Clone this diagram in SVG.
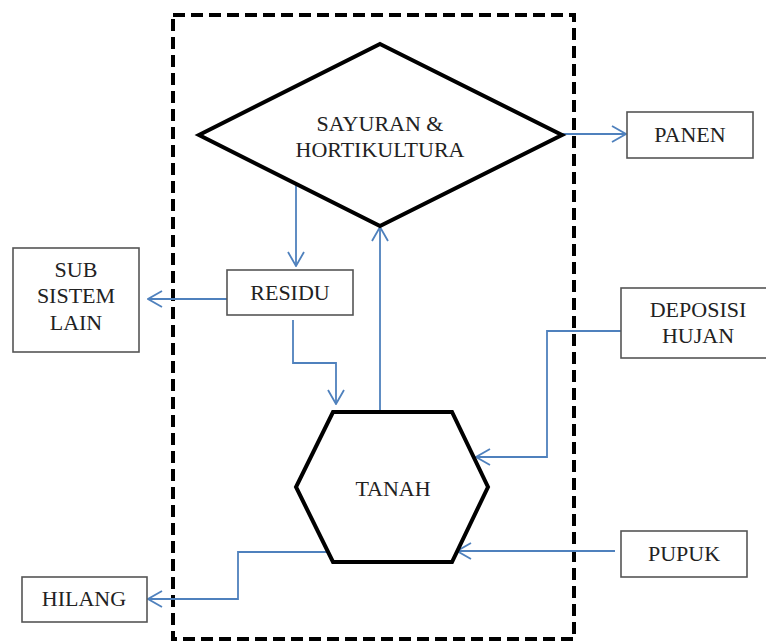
<svg xmlns="http://www.w3.org/2000/svg" width="766" height="642" viewBox="0 0 766 642">
<defs>
<style>
.box{fill:#fff;stroke:#555;stroke-width:1.6}
.shape{fill:#fff;stroke:#000;stroke-width:4;stroke-linejoin:miter}
.lbl{font-family:"Liberation Serif","Times New Roman",serif;font-size:22px;fill:#222;text-anchor:middle}
.conn{fill:none;stroke:#4F81BD;stroke-width:1.8}
</style>
<marker id="arr" viewBox="0 0 16 18" refX="15" refY="9" markerWidth="16" markerHeight="18" markerUnits="userSpaceOnUse" orient="auto">
<path d="M1,1 L15,9 L1,17" fill="none" stroke="#4F81BD" stroke-width="1.8"/>
</marker>
</defs>
<rect width="766" height="642" fill="#fff"/>
<rect id="boundary" x="173" y="15" width="401" height="624" fill="none" stroke="#000" stroke-width="4" stroke-dasharray="12 6"/>
<g id="connectors">
<path class="conn" d="M562,134 L626,134" marker-end="url(#arr)"/>
<path class="conn" d="M296,184 L296,266" marker-end="url(#arr)"/>
<path class="conn" d="M227,299 L148,299" marker-end="url(#arr)"/>
<path class="conn" d="M293,320 L293,363 L336,363 L336,404" marker-end="url(#arr)"/>
<path class="conn" d="M380,412 L380,227" marker-end="url(#arr)"/>
<path class="conn" d="M621,331 L547,331 L547,457 L476,457" marker-end="url(#arr)"/>
<path class="conn" d="M615,551 L457,551" marker-end="url(#arr)"/>
<path class="conn" d="M328,552 L238,552 L238,599 L148,599" marker-end="url(#arr)"/>
</g>
<g id="sayuran">
<polygon class="shape" points="380,44 562,135 380,226 199,135"/>
<text class="lbl" x="380" y="131">SAYURAN &amp;</text>
<text class="lbl" x="380" y="157">HORTIKULTURA</text>
</g>
<g id="panen">
<rect class="box" x="627" y="112" width="126" height="46"/>
<text class="lbl" x="690" y="142">PANEN</text>
</g>
<g id="subsistem">
<rect class="box" x="13" y="248" width="126" height="104"/>
<text class="lbl" x="76" y="277">SUB</text>
<text class="lbl" x="76" y="303">SISTEM</text>
<text class="lbl" x="76" y="330">LAIN</text>
</g>
<g id="residu">
<rect class="box" x="227" y="270" width="126" height="45"/>
<text class="lbl" x="290" y="300">RESIDU</text>
</g>
<g id="deposisi">
<rect class="box" x="621" y="288" width="148" height="70"/>
<text class="lbl" x="698" y="317">DEPOSISI</text>
<text class="lbl" x="698" y="343">HUJAN</text>
</g>
<g id="tanah">
<polygon class="shape" points="333,412 452,412 488,487 452,562 333,562 296,487"/>
<text class="lbl" x="393" y="496">TANAH</text>
</g>
<g id="pupuk">
<rect class="box" x="621" y="531" width="126" height="46"/>
<text class="lbl" x="684" y="561">PUPUK</text>
</g>
<g id="hilang">
<rect class="box" x="22" y="577" width="125" height="45"/>
<text class="lbl" x="84" y="606">HILANG</text>
</g>
</svg>
